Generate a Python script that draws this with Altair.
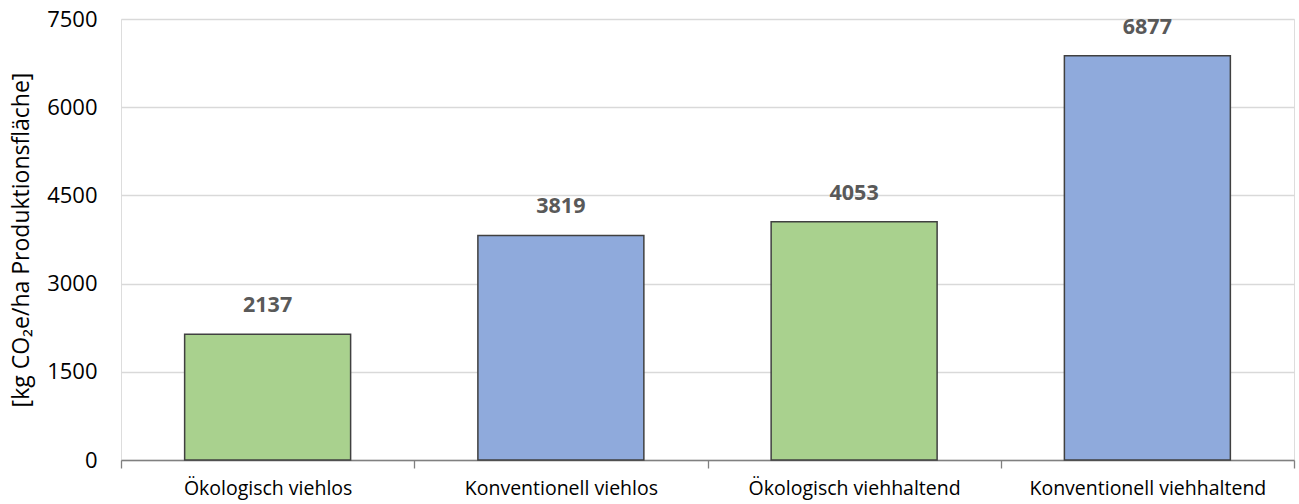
import altair as alt
import pandas as pd

categories = ["Ökologisch viehlos", "Konventionell viehlos",
              "Ökologisch viehhaltend", "Konventionell viehhaltend"]
values = [2137, 3819, 4053, 6877]
farming = ["Ökologisch", "Konventionell", "Ökologisch", "Konventionell"]
y_ticks = [0, 1500, 3000, 4500, 6000, 7500]

df = pd.DataFrame({"Betrieb": categories, "Wert": values, "Art": farming})

font = "Open Sans"

x = alt.X("Betrieb:N", sort=categories, title=None,
          scale=alt.Scale(paddingInner=0, paddingOuter=0),
          axis=alt.Axis(labelAngle=0, labelFontSize=19.5, labelColor="#000000",
                        labelFont=font, labelPadding=11, labelLimit=0,
                        tickBand="extent", tickSize=8, tickColor="#808080",
                        domainColor="#808080", domainWidth=1.3, tickWidth=1.3))
y = alt.Y("Wert:Q", title="[kg CO₂e/ha Produktionsfläche]",
          scale=alt.Scale(domain=[0, 7500], nice=False),
          axis=alt.Axis(values=y_ticks, format="d", labelFontSize=22,
                        labelColor="#000000", labelFont=font, titleFont=font,
                        titleFontSize=23, titleFontWeight="normal",
                        titleColor="#000000", domain=False, ticks=False,
                        labelPadding=24, titlePadding=13,
                        gridColor="#d9d9d9", gridWidth=1.3))

bars = alt.Chart(df).mark_bar(stroke="#404040", strokeWidth=1.5,
                              width=alt.RelativeBandSize(0.566)).encode(
    x=x, y=y,
    color=alt.Color("Art:N",
                    scale=alt.Scale(domain=["Ökologisch", "Konventionell"],
                                    range=["#a9d18e", "#8faadc"]),
                    legend=None),
)

labels = alt.Chart(df).mark_text(dy=-28, fontSize=21.5, fontWeight="bold",
                                 color="#595959", font=font).encode(
    x=alt.X("Betrieb:N", sort=categories), y="Wert:Q", text="Wert:Q")

chart = (bars + labels).properties(
    width=1173, height=441,
    autosize=alt.AutoSizeParams(type="none"),
    padding={"left": 121, "top": 19, "right": 5, "bottom": 44},
).configure_view(stroke=None).configure(background="white")

chart.save("out.html", embed_options={"renderer": "svg", "actions": False})
